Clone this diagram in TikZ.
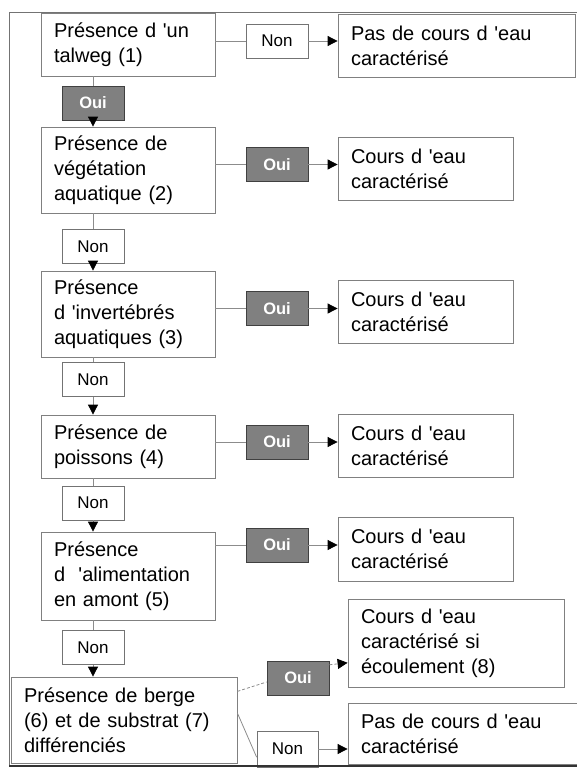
\documentclass[tikz,border=0pt]{standalone}
\usepackage{fontspec}
\setmainfont{Liberation Sans}
\usetikzlibrary{arrows.meta, calc}

\newcommand{\apos}{\textquotesingle}

\begin{document}
\begin{tikzpicture}[
  x=1pt, y=-1pt,
  box/.style={draw=black!50, line width=0.8pt, fill=white, align=left, inner xsep=13pt, inner ysep=0pt, font=\fontsize{20}{25}\selectfont},
  qbox/.style={box, text width=148pt},
  resbox/.style={box, text width=149pt, minimum height=63pt},
  tag/.style={draw=black!55, line width=0.8pt, minimum width=62pt, minimum height=34pt, inner sep=0pt},
  nonbox/.style={tag, fill=white, font=\fontsize{17}{20}\selectfont},
  ouibox/.style={tag, fill=black!50, draw=black!75, text=white, font=\fontsize{16.5}{20}\selectfont\bfseries},
  link/.style={draw=black!45, line width=0.8pt},
  arr/.style={link, -{Triangle[length=10pt, width=10pt, color=black]}},
]
\useasboundingbox (0,0) rectangle (577,769);

% === Question column ===
\node[qbox, minimum height=63pt] (q1) at (128,44.5) {Présence d \apos un\\talweg (1)};
\node[qbox, minimum height=86pt] (q2) at (128,170) {Présence de\\végétation\\aquatique (2)};
\node[qbox, minimum height=86pt] (q3) at (128,314) {Présence\\d \apos invertébrés\\aquatiques (3)};
\node[qbox, minimum height=63pt] (q4) at (128,446.5) {Présence de\\poissons (4)};
\node[qbox, minimum height=88pt] (q5) at (128,576) {Présence\\d \ \apos alimentation\\en amont (5)};
\node[box, text width=200pt, minimum height=86pt] (q6) at (124,720) {Présence de berge\\(6) et de substrat (7)\\différenciés};

% === Down labels ===
\node[ouibox] (oui1) at (93,103) {Oui};
\node[nonbox] (non2) at (93,246.5) {Non};
\node[nonbox] (non3) at (93,379.5) {Non};
\node[nonbox] (non4) at (93,503) {Non};
\node[nonbox] (non5) at (93,647.5) {Non};

\draw[link] (oui1 |- q1.south) -- (oui1);
\draw[arr] (oui1) -- (oui1 |- q2.north);
\draw[link] (non2 |- q2.south) -- (non2);
\draw[arr] (non2) -- (non2 |- q3.north);
\draw[link] (non3 |- q3.south) -- (non3);
\draw[arr] (non3) -- (non3 |- q4.north);
\draw[link] (non4 |- q4.south) -- (non4);
\draw[arr] (non4) -- (non4 |- q5.north);
\draw[link] (non5 |- q5.south) -- (non5);
\draw[arr] (non5) -- (non5 |- q6.north);

% === Side labels ===
\node[nonbox] (non1) at (277,41) {Non};
\node[ouibox] (oui2) at (277,164.5) {Oui};
\node[ouibox] (oui3) at (277,308.5) {Oui};
\node[ouibox] (oui4) at (277,442) {Oui};
\node[ouibox] (oui5) at (277,545) {Oui};
\node[ouibox] (oui6) at (298,678) {Oui};
\node[nonbox, minimum width=61pt, minimum height=36pt] (non6) at (287.5,749) {Non};

% === Results ===
\node[box, text width=211pt, minimum height=63pt] (r1) at (456.5,45.5) {Pas de cours d \apos eau\\caractérisé};
\node[resbox] (r2) at (425.5,168.5) {Cours d \apos eau\\caractérisé};
\node[resbox] (r3) at (425.5,312) {Cours d \apos eau\\caractérisé};
\node[resbox] (r4) at (425.5,445.5) {Cours d \apos eau\\caractérisé};
\node[resbox, minimum height=64pt] (r5) at (425.5,549) {Cours d \apos eau\\caractérisé};
\node[box, text width=190pt, minimum height=88pt] (r6) at (456,643) {Cours d \apos eau\\caractérisé si\\écoulement (8)};
\node[box, text width=204pt, minimum height=61pt] (r7) at (463,733.5) {Pas de cours d \apos eau\\caractérisé};

\foreach \t/\r/\q in {non1/r1/q1, oui2/r2/q2, oui3/r3/q3, oui4/r4/q4, oui5/r5/q5} {
  \draw[link] (\q.east |- \t) -- (\t);
  \draw[arr] (\t) -- (\r.west |- \t);
}

% last question: slanted links
\coordinate (q6oui) at ($(q6.north east)!0.17!(q6.south east)$);
\coordinate (q6non) at ($(q6.north east)!0.42!(q6.south east)$);
\coordinate (oui6out) at ($(oui6.north east)!0.12!(oui6.south east)$);
\draw[link, dash pattern=on 3pt off 2pt] (q6oui) -- ([yshift=-4pt]oui6.west);
\draw[arr, dash pattern=on 3pt off 2pt] (oui6out) -- ([yshift=2pt]r6.west |- oui6out);
\draw[link] (q6non) -- ($(non6.north west)!0.72!(non6.south west)$);
\draw[arr] (non6) -- (r7.west |- non6);

% === Frame ===
\draw[black!55, line width=0.8pt] (577,12) -- (9,12) -- (9,766);
\draw[black!80, line width=1.2pt] (9,766) -- (577,766);

\end{tikzpicture}
\end{document}
